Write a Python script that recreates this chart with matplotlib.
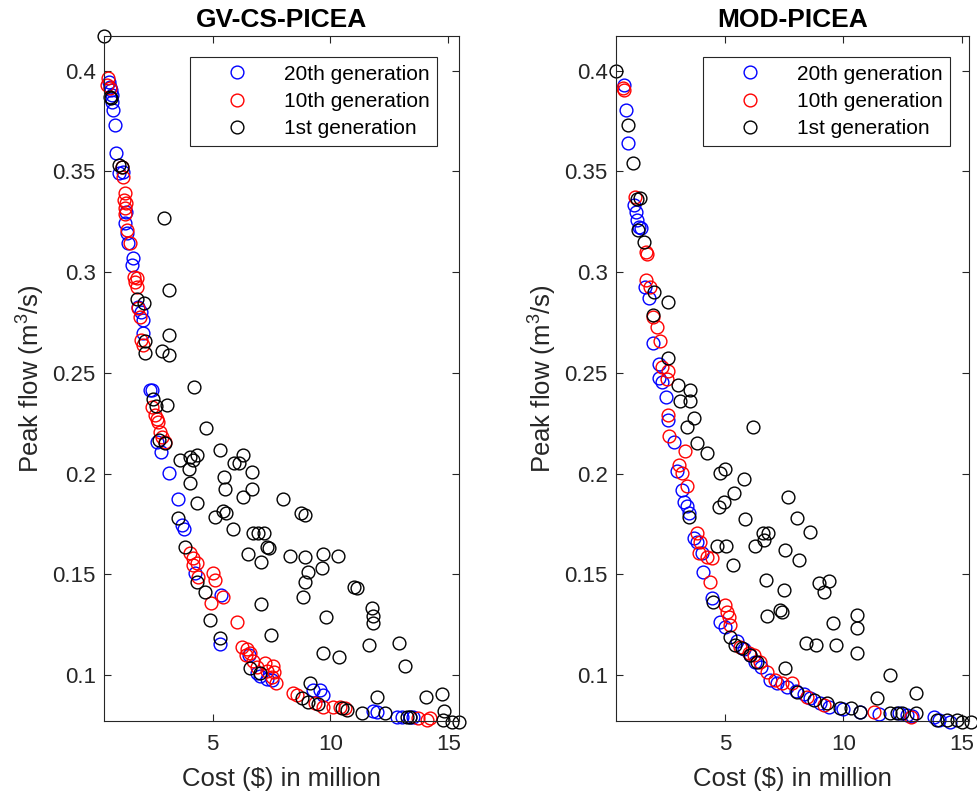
import matplotlib
matplotlib.use("Agg")
import matplotlib.pyplot as plt

plt.rcParams['font.family'] = ['Liberation Sans', 'DejaVu Sans']
plt.rcParams['mathtext.default'] = 'regular'

# ---------------- GV-CS-PICEA ----------------
gv_g20_x = [0.62, 0.65, 0.68, 0.72, 0.72, 0.79, 0.86, 0.90, 1.04, 1.21, 1.32, 1.28, 1.35, 1.42,
            1.61, 1.57, 1.95, 2.03, 1.85, 2.03, 2.34, 2.44, 2.63, 2.80, 3.15, 3.54, 3.69, 3.79,
            4.25, 5.36, 5.31, 6.56, 6.87, 7.0, 7.3, 7.51, 9.28, 9.56, 9.70, 11.82, 11.97, 12.81,
            13.03, 13.38, 13.52]
gv_g20_y = [0.3944, 0.392, 0.3903, 0.3879, 0.3845, 0.3804, 0.373, 0.3592, 0.349, 0.3498, 0.330,
            0.3242, 0.3193, 0.3143, 0.3068, 0.3035, 0.2803, 0.2762, 0.2828, 0.2696, 0.2415, 0.2415,
            0.2159, 0.2109, 0.2002, 0.1873, 0.1745, 0.1724, 0.1506, 0.1398, 0.1157, 0.1100, 0.1010,
            0.0995, 0.098, 0.0976, 0.0927, 0.0927, 0.0902, 0.0824, 0.0819, 0.0795, 0.0795, 0.0795,
            0.0795]

gv_g10_x = [0.57, 0.53, 0.64, 1.14, 1.18, 1.28, 1.24, 1.32, 1.28, 1.30, 1.38, 1.49, 1.66, 1.78,
            1.80, 1.72, 1.85, 1.92, 1.95, 2.06, 2.42, 2.56, 2.70, 2.77, 2.84, 2.98, 2.62,
            4.04, 4.18, 4.33, 4.40, 5.03, 5.10, 5.45, 4.18, 4.92, 6.05, 6.24, 6.45, 6.59, 6.40,
            6.70, 6.90, 7.22, 7.30, 7.57, 7.61, 7.50, 7.69, 8.43, 8.57, 9.35, 9.70, 10.12, 10.40,
            10.62, 13.73, 14.09, 14.23]
gv_g10_y = [0.3961, 0.3928, 0.3912, 0.3523, 0.3473, 0.3391, 0.3358, 0.3341, 0.3317, 0.3290,
            0.3209, 0.3146, 0.2977, 0.2969, 0.2927, 0.2950, 0.282, 0.2779, 0.2663, 0.2638, 0.2332,
            0.2292, 0.2258, 0.2208, 0.2184, 0.2158, 0.2270, 0.1605, 0.158, 0.1555, 0.1489, 0.1506,
            0.1473, 0.139, 0.1547, 0.1357, 0.1266, 0.1142, 0.1129, 0.1109, 0.1100, 0.1070, 0.1040,
            0.106, 0.1020, 0.1046, 0.1018, 0.0990, 0.096, 0.0911, 0.0902, 0.086, 0.0844, 0.0844,
            0.0840, 0.0836, 0.0786, 0.0778, 0.0786]

gv_g1_x = [0.39, 0.65, 0.68, 1.04, 1.15, 2.94, 3.13, 1.80, 2.09, 3.15, 2.15, 2.13, 2.84, 3.15,
           4.21, 2.48, 3.05, 2.58, 4.72, 2.74, 2.98, 5.31, 3.62, 4.04, 4.35, 4.18, 4.01, 6.30,
           5.91, 6.12, 6.66, 5.48, 4.04, 5.53, 6.68, 6.30, 8.0, 4.35, 8.74, 8.92, 5.45, 5.57,
           5.10, 3.52, 5.85, 6.73, 6.93, 7.18, 7.29, 7.39, 3.83, 6.51, 7.04, 8.28, 8.92, 9.70,
           10.31, 9.63, 9.06, 8.92, 8.85, 11.0, 11.11, 7.05, 9.80, 11.78, 11.79, 11.82, 4.89,
           7.48, 11.65, 12.92, 9.70, 10.36, 13.17, 5.31, 4.68, 4.32, 6.59, 7.01, 9.13, 8.78,
           9.06, 9.48, 10.48, 10.69, 11.96, 11.33, 12.32, 13.24, 13.38, 14.06, 14.72, 14.83,
           14.79, 15.15, 15.47]
gv_g1_y = [0.4174, 0.387, 0.3862, 0.353, 0.352, 0.327, 0.291, 0.2865, 0.2845, 0.269, 0.266,
           0.260, 0.261, 0.259, 0.243, 0.237, 0.234, 0.2336, 0.2225, 0.2167, 0.215, 0.212, 0.207,
           0.2084, 0.2093, 0.207, 0.2022, 0.2093, 0.2052, 0.2052, 0.201, 0.1982, 0.1952, 0.1923,
           0.1923, 0.1883, 0.1873, 0.1853, 0.1807, 0.1795, 0.1816, 0.1807, 0.1784, 0.1782,
           0.1724, 0.1704, 0.1704, 0.1704, 0.1638, 0.163, 0.1635, 0.160, 0.1564, 0.1592, 0.1585,
           0.160, 0.1593, 0.153, 0.1514, 0.1464, 0.139, 0.144, 0.1432, 0.1352, 0.129, 0.1332,
           0.1294, 0.1258, 0.1274, 0.120, 0.115, 0.1162, 0.1112, 0.1092, 0.1046, 0.1183, 0.1415,
           0.1464, 0.1035, 0.101, 0.0963, 0.0886, 0.0869, 0.0858, 0.0836, 0.0828, 0.0894, 0.0814,
           0.0811, 0.0795, 0.0795, 0.0894, 0.0906, 0.0825, 0.0778, 0.077, 0.077]

# ---------------- MOD-PICEA ----------------
mod_g20_x = [0.72, 0.81, 0.90, 1.14, 1.23, 1.28, 1.37, 1.43, 1.61, 1.79, 1.94, 2.22, 2.22, 2.32,
             2.50, 2.60, 2.84, 2.98, 3.17, 3.26, 3.38, 3.45, 3.66, 3.80, 4.01, 4.06, 4.44, 4.79,
             5.0, 5.5, 5.8, 6.06, 6.27, 6.5, 6.91, 7.2, 7.61, 8.0, 8.32, 8.60, 9.0, 9.38, 10.0,
             10.72, 11.5, 12.34, 12.70, 12.9, 13.83, 14.04, 14.53]
mod_g20_y = [0.3928, 0.3804, 0.3642, 0.3333, 0.33, 0.3258, 0.3225, 0.3217, 0.2928, 0.287, 0.265,
             0.2544, 0.2474, 0.2456, 0.2382, 0.2266, 0.2158, 0.2012, 0.1919, 0.1861, 0.1839,
             0.1803, 0.1679, 0.1663, 0.1605, 0.1514, 0.1382, 0.1266, 0.1241, 0.117, 0.113, 0.1101,
             0.1067, 0.104, 0.0977, 0.096, 0.0943, 0.092, 0.0907, 0.0886, 0.086, 0.0844, 0.0835,
             0.0819, 0.081, 0.0811, 0.0803, 0.080, 0.0795, 0.0779, 0.077]

mod_g10_x = [0.66, 0.72, 1.19, 1.65, 1.71, 1.65, 1.82, 1.96, 2.11, 2.25, 2.32, 2.56, 2.53, 2.56,
             2.64, 3.31, 3.06, 3.17, 3.40, 3.80, 3.94, 3.91, 4.23, 4.44, 4.36, 5.0, 5.07, 5.14,
             5.21, 5.64, 5.99, 6.20, 6.48, 6.77, 7.12, 7.40, 7.83, 8.46, 9.17, 11.28, 12.84]
mod_g10_y = [0.3912, 0.3903, 0.3374, 0.3101, 0.309, 0.2961, 0.2927, 0.2779, 0.2729, 0.266,
             0.2531, 0.2511, 0.2468, 0.2291, 0.2187, 0.2114, 0.2043, 0.2002, 0.1939, 0.1705,
             0.1663, 0.1605, 0.1588, 0.1580, 0.1464, 0.1348, 0.1315, 0.129, 0.1249, 0.1142,
             0.1109, 0.1101, 0.1067, 0.1018, 0.0977, 0.0960, 0.0960, 0.0894, 0.0853, 0.0819,
             0.0795]

mod_g1_x = [0.38, 0.90, 1.09, 1.40, 1.28, 1.33, 1.57, 2.00, 2.60, 1.96, 2.60, 3.02, 3.52, 3.09,
            3.49, 3.69, 3.40, 3.80, 4.22, 6.17, 4.79, 5.0, 5.81, 5.38, 4.72, 4.93, 7.64, 8.04,
            5.85, 8.60, 6.60, 6.83, 6.62, 4.65, 5.03, 6.27, 7.54, 3.47, 4.50, 5.21, 5.42, 5.71,
            6.06, 6.34, 7.54, 8.04, 8.74, 9.31, 9.87, 10.30, 10.72, 11.43, 11.99, 12.28, 12.49,
            13.05, 13.97, 14.39, 14.82, 15.03, 15.38, 11.99, 13.05, 10.58, 10.58, 10.58, 9.56,
            9.70, 8.43, 8.86, 6.77, 7.33, 7.40, 7.50, 6.74, 8.95, 9.38, 9.17, 5.35, 8.11]
mod_g1_y = [0.400, 0.373, 0.3543, 0.3366, 0.3363, 0.3209, 0.3151, 0.2903, 0.2850, 0.2787,
            0.2572, 0.244, 0.2415, 0.2362, 0.2362, 0.2275, 0.2233, 0.2151, 0.2101, 0.2233,
            0.2002, 0.2022, 0.1972, 0.1903, 0.1833, 0.1861, 0.1883, 0.1779, 0.1774, 0.1712,
            0.1704, 0.1704, 0.1671, 0.1641, 0.1641, 0.1641, 0.1622, 0.1787, 0.1365, 0.1191,
            0.115, 0.1134, 0.1101, 0.1067, 0.1035, 0.0919, 0.0878, 0.0861, 0.0836, 0.0836,
            0.0819, 0.0886, 0.0811, 0.0811, 0.0811, 0.0811, 0.0778, 0.0778, 0.0778, 0.077, 0.077,
            0.1001, 0.0914, 0.1299, 0.1233, 0.1112, 0.1261, 0.115, 0.1159, 0.115, 0.1294, 0.1324,
            0.1315, 0.1423, 0.1473, 0.1456, 0.1469, 0.1415, 0.1547, 0.1572]

titles = ["GV-CS-PICEA", "MOD-PICEA"]
legend_labels = ["20th generation", "10th generation", "1st generation"]
xticks = [5, 10, 15]
yticks = [0.1, 0.15, 0.2, 0.25, 0.3, 0.35, 0.4]
ytick_labels = ["0.1", "0.15", "0.2", "0.25", "0.3", "0.35", "0.4"]
colors = ["#0000ff", "#ff0000", "#000000"]

W, H = 977, 796
fig = plt.figure(figsize=(W / 100, H / 100), dpi=100)

axes_px = [(104, 459.3), (616, 968.7)]
top_px, bot_px = 35.5, 721
xlims = [(0.39, 15.47), (0.38, 15.3)]
ylim = (0.0773, 0.4174)
leg_anchor = [(0.938, 0.968), (0.947, 0.968)]
datasets = [
    [(gv_g20_x, gv_g20_y), (gv_g10_x, gv_g10_y), (gv_g1_x, gv_g1_y)],
    [(mod_g20_x, mod_g20_y), (mod_g10_x, mod_g10_y), (mod_g1_x, mod_g1_y)],
]
axc = "#262626"

for i in range(2):
    l, r = axes_px[i]
    ax = fig.add_axes([l / W, (H - bot_px) / H, (r - l) / W, (bot_px - top_px) / H])
    for (xs, ys), c, lab in zip(datasets[i], colors, legend_labels):
        ax.plot(xs, ys, linestyle='none', marker='o', markersize=9.2, markeredgewidth=1.0,
                markerfacecolor='none', markeredgecolor=c, label=lab, clip_on=False)
    ax.set_xlim(*xlims[i])
    ax.set_ylim(*ylim)
    ax.set_xticks(xticks)
    ax.set_yticks(yticks)
    ax.set_yticklabels(ytick_labels)
    ax.tick_params(direction='in', length=5, width=0.8, colors=axc, labelsize=16,
                   top=True, right=True)
    ax.tick_params(axis='x', pad=9)
    ax.tick_params(axis='y', pad=6)
    for s in ax.spines.values():
        s.set_color(axc)
        s.set_linewidth(0.8)
    ax.set_title(titles[i], fontsize=19, fontweight='bold', pad=6)
    ax.set_xlabel("Cost ($) in million", fontsize=18.5, color=axc, labelpad=9)
    ax.set_ylabel("Peak flow (m$^3$/s)", fontsize=18.5, color=axc, labelpad=4)
    leg = ax.legend(loc='upper right', bbox_to_anchor=leg_anchor[i], borderaxespad=0,
                    fontsize=15, frameon=True, fancybox=False, framealpha=1,
                    edgecolor='#262626', handlelength=3.75, handletextpad=0.4,
                    labelspacing=0.4, borderpad=0.35)
    leg.get_frame().set_linewidth(0.8)

fig.savefig("out.png", dpi=100)
